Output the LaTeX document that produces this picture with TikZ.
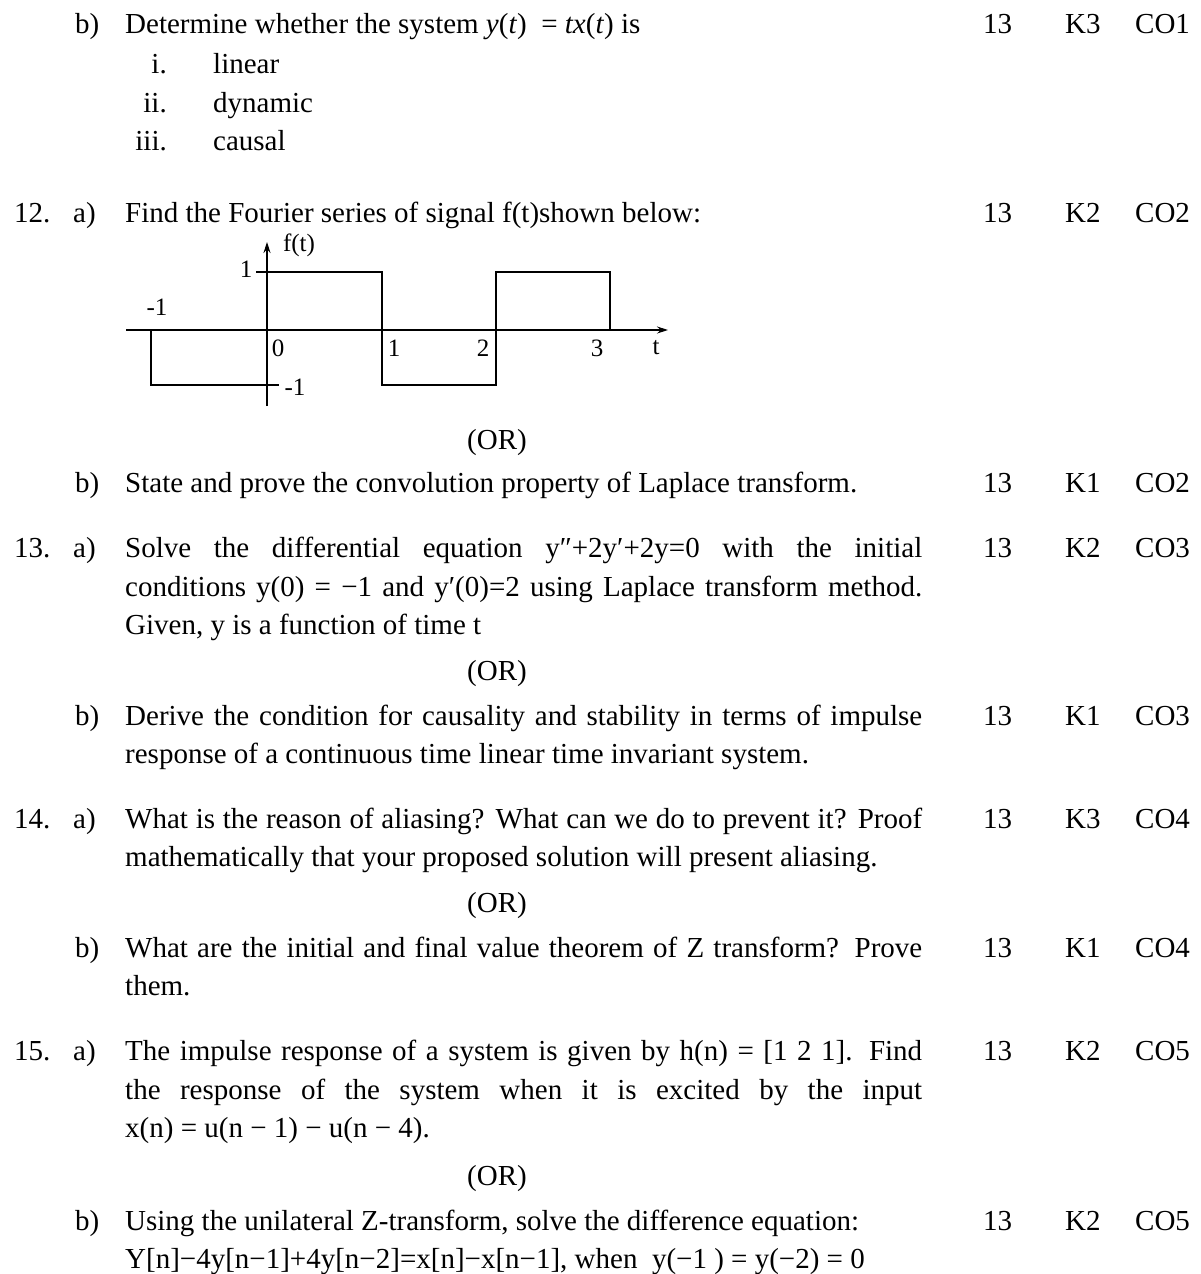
\documentclass[tikz,border=0pt]{standalone}
\usepackage{fontspec}
\setmainfont{Liberation Serif}
\usetikzlibrary{arrows.meta}
\newcommand{\jline}[1]{\makebox[797pt][s]{#1}}
\newcommand{\qmarkcols}[4]{%
  \node[txt] (m13#4) at (983,#1) {13};
  \node[txt] (mk#4) at (1065,#1) {#2};
  \node[txt] (mco#4) at (1135,#1) {#3};}
\begin{document}
\begin{tikzpicture}[x=1pt,y=-1pt,
  txt/.style={anchor=base west,inner sep=0pt,font=\fontsize{29}{35}\selectfont},
  txtr/.style={anchor=base east,inner sep=0pt,font=\fontsize{29}{35}\selectfont},
  txtc/.style={anchor=base,inner sep=0pt,font=\fontsize{29}{35}\selectfont},
  glab/.style={inner sep=0pt,font=\fontsize{25}{30}\selectfont},
  sig/.style={line width=2pt,line cap=rect},
  axis/.style={line width=1.1pt,-{Stealth[length=11pt,width=7pt]}}]
\useasboundingbox[fill=white] (0,0) rectangle (1200,1274);
% --- 11 b
\node[txt] (b11) at (75,33) {b)};
\node[txt] (t11) at (125,33) {Determine whether the system \textit{y}(\textit{t})\ \ = \textit{tx}(\textit{t}) is};
\qmarkcols{33}{K3}{CO1}{a}
\node[txtr] (r1) at (167,73) {i.};
\node[txt] (l1) at (213,73) {linear};
\node[txtr] (r2) at (167,112) {ii.};
\node[txt] (l2) at (213,112) {dynamic};
\node[txtr] (r3) at (167,150) {iii.};
\node[txt] (l3) at (213,150) {causal};
% --- 12 a
\node[txt] (n12) at (14,222) {12.};
\node[txt] (a12) at (73,222) {a)};
\node[txt] (t12) at (125,222) {Find the Fourier series of signal f(t)shown below:};
\qmarkcols{222}{K2}{CO2}{b}
% graph
\coordinate (xend) at (668,330);
\coordinate (xbeg) at (126,330);
\coordinate (ytop) at (267,242);
\coordinate (ybot) at (267,406);
\draw[axis] (xbeg) -- (xend);
\draw[axis] (ybot) -- (ytop);
\draw[line width=1.1pt] (256,272) -- (267,272);
\draw[line width=1.1pt] (267,385) -- (279,385);
\draw[sig] (151,330) -- (151,385) -- (267,385) -- (267,272) -- (382,272) -- (382,385) -- (496,385) -- (496,272) -- (610,272) -- (610,330);
\node[glab] (ft) at (299,245) {f(t)};
\node[glab] (g1) at (246,269) {1};
\node[glab] (gm1a) at (157,307) {-1};
\node[glab] (gm1b) at (295,387) {-1};
\node[glab] (g0) at (278,348) {0};
\node[glab] (gl1) at (394,348) {1};
\node[glab] (g2) at (483,348) {2};
\node[glab] (g3) at (597,348) {3};
\node[glab] (gt) at (656,348) {t};
\node[txtc] (or1) at (497,449) {(OR)};
% --- 12 b
\node[txt] (b12) at (75,492) {b)};
\node[txt] (t12b) at (125,492) {State and prove the convolution property of Laplace transform.};
\qmarkcols{492}{K1}{CO2}{c}
% --- 13 a
\node[txt] (n13) at (14,557) {13.};
\node[txt] (a13) at (73,557) {a)};
\node[txt] (t13a) at (125,557) {\jline{Solve the differential equation y″+2y′+2y=0 with the initial}};
\qmarkcols{557}{K2}{CO3}{d}
\node[txt] (t13b) at (125,596) {\jline{conditions y(0) = −1 and y′(0)=2 using Laplace transform method.}};
\node[txt] (t13c) at (125,634) {Given, y is a function of time t};
\node[txtc] (or2) at (497,680) {(OR)};
\node[txt] (b13) at (75,725) {b)};
\node[txt] (t13d) at (125,725) {\jline{Derive the condition for causality and stability in terms of impulse}};
\qmarkcols{725}{K1}{CO3}{e}
\node[txt] (t13e) at (125,763) {response of a continuous time linear time invariant system.};
% --- 14
\node[txt] (n14) at (14,828) {14.};
\node[txt] (a14) at (73,828) {a)};
\node[txt] (t14a) at (125,828) {\jline{What is the reason of aliasing? What can we do to prevent it? Proof}};
\qmarkcols{828}{K3}{CO4}{f}
\node[txt] (t14b) at (125,866) {mathematically that your proposed solution will present aliasing.};
\node[txtc] (or3) at (497,912) {(OR)};
\node[txt] (b14) at (75,957) {b)};
\node[txt] (t14c) at (125,957) {\jline{What are the initial and final value theorem of Z transform? Prove}};
\qmarkcols{957}{K1}{CO4}{g}
\node[txt] (t14d) at (125,995) {them.};
% --- 15
\node[txt] (n15) at (14,1060) {15.};
\node[txt] (a15) at (73,1060) {a)};
\node[txt] (t15a) at (125,1060) {\jline{The impulse response of a system is given by h(n) = [1 2 1]. Find}};
\qmarkcols{1060}{K2}{CO5}{h}
\node[txt] (t15b) at (125,1099) {\jline{the response of the system when it is excited by the input}};
\node[txt] (t15c) at (125,1137) {x(n) = u(n − 1) − u(n − 4).};
\node[txtc] (or4) at (497,1185) {(OR)};
\node[txt] (b15) at (75,1230) {b)};
\node[txt] (t15d) at (125,1230) {Using the unilateral Z-transform, solve the difference equation:};
\qmarkcols{1230}{K2}{CO5}{i}
\node[txt] (t15e) at (125,1268) {Y[n]−4y[n−1]+4y[n−2]=x[n]−x[n−1], when\ \ y(−1 ) = y(−2) = 0};
\end{tikzpicture}
\end{document}
